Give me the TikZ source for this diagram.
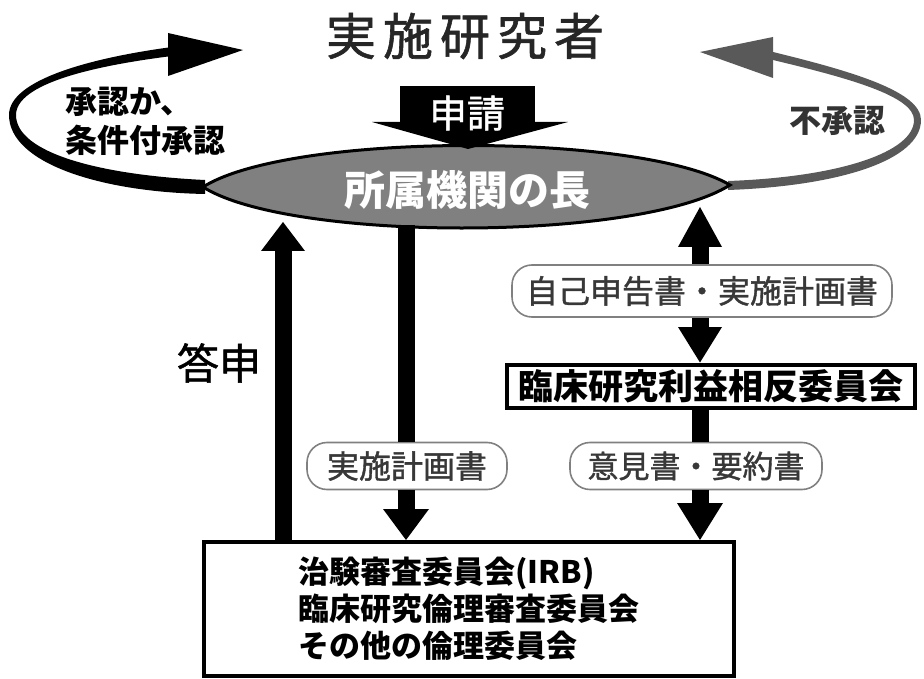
\documentclass[tikz,border=0pt]{standalone}
\usepackage{fontspec}
\newfontfamily\jp{Noto Sans CJK JP}
\newfontfamily\jpm[FakeBold=1.2]{Noto Sans CJK JP}
\tikzset{
  shaft/.style={line width=17pt},
  headfill/.style={fill=black},
  lbl/.style={draw=black!50, line width=1.6pt, rounded corners=20pt, fill=white, text=black!78,
    font=\jpm\fontsize{32}{36}\selectfont, inner sep=0pt, minimum height=47pt},
  bx/.style={draw=black, line width=4pt, fill=white, inner sep=0pt},
  boldtxt/.style={font=\jp\bfseries\fontsize{32}{39}\selectfont},
}
\begin{document}
\begin{tikzpicture}[x=1pt,y=-1pt]
\path[use as bounding box] (0,0) rectangle (924,679);

% title
\node[font=\jpm\fontsize{50}{55}\selectfont, text=black!85] (T) at (465,36) {実\hspace{7pt}施\hspace{7pt}研\hspace{7pt}究\hspace{7pt}者};

% left loop (approval)
\coordinate (LT) at (203,187);
\coordinate (RT) at (730,185);
\fill[black] (205,194) .. controls (100,192) and (9,163) .. (9,115)
  .. controls (9,80) and (90,58) .. (172,47) -- (172,56)
  .. controls (92,66) and (16,84) .. (16,115)
  .. controls (16,153) and (100,175) .. (205,180) -- cycle;
\fill[black] (168,33) -- (243,50) -- (168,76) -- cycle;

% right loop (rejection)
\fill[black!65] (728,190) .. controls (840,186) and (921,160) .. (921,120)
  .. controls (921,92) and (855,72) .. (773,52) -- (773,60)
  .. controls (848,78) and (914,96) .. (914,120)
  .. controls (914,152) and (840,177) .. (728,181) -- cycle;
\fill[black!65] (773,37) -- (700,52) -- (773,78) -- cycle;

% head of institution (lens)
\draw[line width=3pt, fill=black!50] (LT) .. controls (290,132) and (640,132) .. (RT)
  .. controls (640,242) and (290,242) .. cycle;
\node[font=\jp\bfseries\fontsize{41}{45}\selectfont, text=white] (H) at (467,190) {所属機関の長};

% shinsei arrow
\fill[black] (400,86) rectangle (535,123);
\fill[black] (372,122) -- (568,122) -- (468,149) -- cycle;
\node[font=\jpm\fontsize{38}{42}\selectfont, text=white] (S) at (467,113) {申請};

% side texts
\node[boldtxt, align=left, anchor=west] (A) at (62,121) {承認か、\\条件付承認};
\node[boldtxt, text=black!80] (N) at (837,121) {不承認};
\node[font=\jpm\fontsize{42}{46}\selectfont] (D) at (219,363) {答申};

% boxes
\node[bx, align=left, minimum width=530pt, minimum height=134pt,
  font=\jp\bfseries\fontsize{31}{37}\selectfont] (B) at (469,609)
  {治験審査委員会(IRB)\\臨床研究倫理審査委員会\\その他の倫理委員会};
\node[bx, minimum width=408pt, minimum height=43pt,
  font=\jp\bfseries\fontsize{35}{38}\selectfont] (C) at (711,386) {臨床研究利益相反委員会};

% labels
\node[lbl, minimum width=200pt] (L1) at (407,466) {実施計画書};
\node[lbl, minimum width=380pt, minimum height=52pt] (L2) at (702,291) {自己申告書・実施計画書};
\node[lbl, minimum width=252pt, font=\jpm\fontsize{31}{36}\selectfont] (L3) at (696,466) {意見書・要約書};

% answer arrow (up)
\coordinate (u1) at (283,222);
\draw[shaft] (u1 |- B.north) -- (283,251);
\fill[headfill] (u1) -- (261,251) -- (305,251) -- cycle;

% application plan arrow (down)
\coordinate (d1) at (406,225);
\draw[shaft] (d1) -- (d1 |- L1.north);
\draw[shaft] (d1 |- L1.south) -- (406,510);
\fill[headfill] (383,509) -- (429,509) -- (d1 |- B.north) -- cycle;

% COI arrows
\coordinate (r1) at (700,207);
\draw[shaft] (700,246) -- (r1 |- L2.north);
\fill[headfill] (r1) -- (678,247) -- (722,247) -- cycle;
\draw[shaft] (r1 |- L2.south) -- (700,328);
\fill[headfill] (678,327) -- (722,327) -- (r1 |- C.north) -- cycle;
\draw[shaft] (r1 |- C.south) -- (r1 |- L3.north);
\draw[shaft] (r1 |- L3.south) -- (700,504);
\fill[headfill] (677,503) -- (723,503) -- (r1 |- B.north) -- cycle;
\end{tikzpicture}
\end{document}
